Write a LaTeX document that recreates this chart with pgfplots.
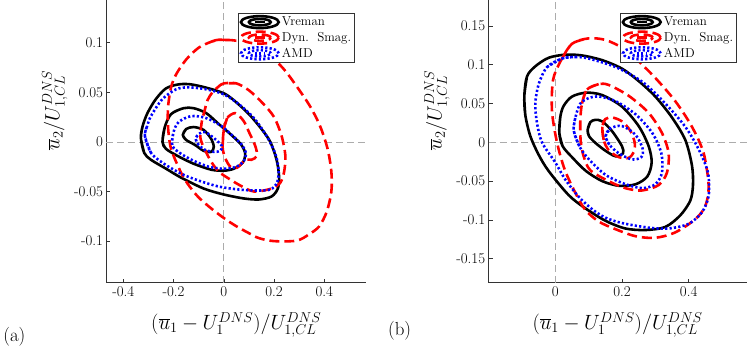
\documentclass[border=0pt]{standalone}
\usepackage{pgfplots}
\pgfplotsset{compat=1.18}

\newcommand{\lgf}{\fontsize{13}{15}\selectfont}
% contour-style legend icon: concentric ellipses
\pgfplotsset{
  legend image code/.code={
    \draw[#1] (19pt,0) ellipse [x radius=19pt, y radius=6pt];
    \draw[#1] (19pt,0) ellipse [x radius=11pt, y radius=3.2pt];
    \draw[#1] (14pt,0) -- (24pt,0);
  },
  pdfpanel/.style={
    scale only axis, height=284pt,
    axis x line*=bottom, axis y line*=left,
    axis line style={-, black!80, line width=0.6pt},
    tick align=inside, major tick length=4pt,
    tick style={black!80, line width=0.6pt},
    tick label style={font=\fontsize{15}{17}\selectfont},
    label style={font=\fontsize{20.74}{24}\selectfont},
    xlabel={$(\overline{u}_1-U^{DNS}_1)/U^{DNS}_{1,CL}$},
    xlabel style={yshift=-9pt},
    ylabel={$\overline{u}_2/U^{DNS}_{1,CL}$},
    ylabel style={at={(ticklabel cs:0.61)}},
    clip=false,
    legend cell align=left,
    legend style={draw=black!80, line width=0.6pt, font=\lgf,
      inner sep=1.5pt, row sep=1pt, anchor=north east},
  },
  vr/.style={black, line width=2.6pt, smooth},
  ds/.style={red, line width=2.6pt, dash pattern=on 10pt off 5pt, smooth},
  amd/.style={blue, line width=2.6pt, dash pattern=on 2.2pt off 2.2pt, smooth},
  zline/.style={gray!65, line width=0.7pt, dash pattern=on 7pt off 4pt, forget plot},
}

\begin{document}
\begin{tikzpicture}
% ---------------- panel (a)
\begin{axis}[pdfpanel, width=261pt,
  xmin=-0.467, xmax=0.566, ymin=-0.142, ymax=0.1427,
  xtick={-0.4,-0.2,0,0.2,0.4}, xticklabels={-0.4,-0.2,0,0.2,0.4},
  ytick={-0.1,-0.05,0,0.05,0.1}, yticklabels={-0.1,-0.05,0,0.05,0.1},
  legend style={at={(0.957,0.955)}},
]
\addplot[zline] coordinates {(0,-0.142) (0,0.1427)};
\addplot[zline] coordinates {(-0.467,0) (0.566,0)};
% Vreman
\addplot[vr] coordinates {(-0.317,-0.011) (-0.33,0.004) (-0.323,0.016) (-0.304,0.029) (-0.271,0.043) (-0.23,0.054) (-0.18,0.058) (-0.13,0.058) (-0.06,0.054) (0,0.049) (0.04,0.042) (0.10,0.028) (0.15,0.013) (0.185,0.0) (0.21,-0.018) (0.22,-0.035) (0.215,-0.047) (0.19,-0.055) (0.14,-0.058) (0.08,-0.057) (0.0,-0.053) (-0.08,-0.047) (-0.17,-0.036) (-0.23,-0.027) (-0.29,-0.018) (-0.317,-0.011) (-0.33,0.004) (-0.323,0.016)};
\addlegendentry{Vreman}
\addplot[vr, forget plot] coordinates {(-0.23,-0.007) (-0.244,0.0) (-0.235,0.015) (-0.21,0.028) (-0.16,0.034) (-0.12,0.034) (-0.07,0.029) (-0.02,0.018) (0.03,0.007) (0.07,-0.003) (0.085,-0.012) (0.075,-0.021) (0.04,-0.027) (0,-0.029) (-0.05,-0.028) (-0.12,-0.022) (-0.185,-0.014) (-0.23,-0.007) (-0.244,0.0) (-0.235,0.015)};
\addplot[vr, forget plot] coordinates {(-0.15,0.002) (-0.163,0.007) (-0.15,0.013) (-0.12,0.015) (-0.08,0.012) (-0.05,0.003) (-0.04,-0.005) (-0.05,-0.01) (-0.08,-0.009) (-0.115,-0.003) (-0.15,0.002) (-0.163,0.007) (-0.15,0.013)};
% Dyn. Smag.
\addplot[ds] coordinates {(-0.05,0.101) (-0.02,0.103) (0.05,0.102) (0.12,0.097) (0.18,0.088) (0.24,0.073) (0.29,0.056) (0.343,0.036) (0.383,0.016) (0.413,-0.007) (0.428,-0.03) (0.428,-0.05) (0.41,-0.07) (0.38,-0.085) (0.34,-0.093) (0.29,-0.0995) (0.2,-0.1) (0.14,-0.097) (0.1,-0.092) (0.05,-0.085) (0.013,-0.079) (-0.02,-0.073) (-0.06,-0.065) (-0.1,-0.056) (-0.13,-0.047) (-0.16,-0.036) (-0.19,-0.02) (-0.212,-0.005) (-0.222,0.015) (-0.222,0.035) (-0.21,0.055) (-0.19,0.068) (-0.15,0.083) (-0.1,0.095) (-0.05,0.101) (-0.02,0.103) (0.05,0.102)};
\addlegendentry{Dyn.~~Smag.}
\addplot[ds, forget plot] coordinates {(-0.02,0.056) (0.0,0.059) (0.05,0.059) (0.1,0.052) (0.155,0.039) (0.2,0.025) (0.23,0.006) (0.245,-0.014) (0.24,-0.03) (0.225,-0.041) (0.19,-0.047) (0.12,-0.05) (0.066,-0.044) (0.02,-0.037) (-0.02,-0.03) (-0.05,-0.02) (-0.075,-0.008) (-0.093,0.004) (-0.088,0.02) (-0.078,0.03) (-0.065,0.042) (-0.045,0.05) (-0.02,0.056) (0.0,0.059) (0.05,0.059)};
\addplot[ds, forget plot] coordinates {(-0.005,-0.005) (0,0.012) (0.013,0.024) (0.046,0.029) (0.079,0.021) (0.1,0.01) (0.125,-0.004) (0.132,-0.014) (0.11,-0.018) (0.086,-0.018) (0.053,-0.026) (0.026,-0.025) (0.005,-0.016) (-0.005,-0.005) (0,0.012) (0.013,0.024)};
% AMD
\addplot[amd] coordinates {(-0.29,-0.011) (-0.314,0.006) (-0.305,0.016) (-0.29,0.026) (-0.245,0.043) (-0.19,0.053) (-0.14,0.055) (-0.07,0.053) (0.0,0.048) (0.06,0.038) (0.12,0.024) (0.17,0.006) (0.205,-0.012) (0.218,-0.028) (0.212,-0.041) (0.185,-0.048) (0.13,-0.049) (0.06,-0.048) (-0.02,-0.045) (-0.10,-0.039) (-0.17,-0.032) (-0.244,-0.021) (-0.29,-0.011) (-0.314,0.006) (-0.305,0.016)};
\addlegendentry{AMD}
\addplot[amd, forget plot] coordinates {(-0.17,-0.012) (-0.205,-0.004) (-0.2,0.01) (-0.18,0.02) (-0.13,0.026) (-0.07,0.024) (-0.01,0.016) (0.04,0.005) (0.075,-0.004) (0.088,-0.012) (0.08,-0.019) (0.05,-0.025) (0.0,-0.027) (-0.06,-0.025) (-0.12,-0.019) (-0.17,-0.012) (-0.205,-0.004) (-0.2,0.01)};
\addplot[amd, forget plot] coordinates {(-0.1,-0.003) (-0.112,0.003) (-0.10,0.008) (-0.075,0.01) (-0.04,0.004) (-0.008,-0.004) (-0.015,-0.009) (-0.04,-0.01) (-0.075,-0.008) (-0.1,-0.003) (-0.112,0.003) (-0.10,0.008)};
\node[font=\fontsize{19}{22}\selectfont] at (rel axis cs:-0.355,-0.19) {(a)};
\end{axis}
% ---------------- panel (b)
\begin{axis}[pdfpanel, width=259.4pt, at={(384.3pt,0pt)},
  xmin=-0.2, xmax=0.574, ymin=-0.181, ymax=0.183,
  xtick={0,0.2,0.4}, xticklabels={0,0.2,0.4},
  ytick={-0.15,-0.1,-0.05,0,0.05,0.1,0.15}, yticklabels={-0.15,-0.1,-0.05,0,0.05,0.1,0.15},
  legend style={at={(0.962,0.955)}},
]
\addplot[zline] coordinates {(0,-0.181) (0,0.183)};
\addplot[zline] coordinates {(-0.2,0) (0.574,0)};
% Vreman
\addplot[vr] coordinates {(-0.09,0.035) (-0.093,0.06) (-0.085,0.085) (-0.06,0.098) (-0.02,0.109) (0.03,0.113) (0.08,0.112) (0.14,0.106) (0.2,0.095) (0.25,0.079) (0.3,0.059) (0.35,0.032) (0.39,0.003) (0.41,-0.03) (0.413,-0.055) (0.405,-0.075) (0.375,-0.094) (0.33,-0.109) (0.27,-0.113) (0.21,-0.111) (0.15,-0.101) (0.09,-0.085) (0.04,-0.068) (-0.02,-0.037) (-0.05,-0.016) (-0.075,0.008) (-0.09,0.035) (-0.093,0.06) (-0.085,0.085)};
\addlegendentry{Vreman}
\addplot[vr, forget plot] coordinates {(0.022,-0.005) (0.012,0.012) (0.015,0.033) (0.025,0.047) (0.05,0.059) (0.092,0.064) (0.14,0.061) (0.2,0.046) (0.25,0.021) (0.28,-0.005) (0.289,-0.026) (0.276,-0.044) (0.241,-0.054) (0.191,-0.056) (0.141,-0.05) (0.092,-0.037) (0.052,-0.02) (0.022,-0.005) (0.012,0.012) (0.015,0.033)};
\addplot[vr, forget plot] coordinates {(0.101,0.008) (0.097,0.016) (0.105,0.026) (0.12,0.029) (0.141,0.027) (0.171,0.014) (0.2,-0.005) (0.203,-0.014) (0.181,-0.018) (0.151,-0.011) (0.121,-0.001) (0.101,0.008) (0.097,0.016) (0.105,0.026)};
% Dyn. Smag.
\addplot[ds] coordinates {(0.015,0.104) (0.05,0.127) (0.1,0.134) (0.15,0.132) (0.2,0.122) (0.241,0.108) (0.3,0.083) (0.36,0.053) (0.41,0.02) (0.445,-0.014) (0.46,-0.056) (0.45,-0.082) (0.42,-0.099) (0.36,-0.116) (0.3,-0.123) (0.241,-0.121) (0.181,-0.112) (0.13,-0.102) (0.09,-0.087) (0.06,-0.065) (0.028,-0.035) (0.005,0.0) (-0.01,0.04) (-0.007,0.08) (0.015,0.104) (0.05,0.127) (0.1,0.134)};
\addlegendentry{Dyn.~~Smag.}
\addplot[ds, forget plot] coordinates {(0.08,0.05) (0.095,0.068) (0.13,0.075) (0.16,0.074) (0.22,0.06) (0.28,0.038) (0.32,0.012) (0.34,-0.014) (0.335,-0.039) (0.31,-0.055) (0.26,-0.062) (0.21,-0.059) (0.16,-0.05) (0.105,-0.036) (0.085,-0.018) (0.076,0.002) (0.075,0.029) (0.08,0.05) (0.095,0.068) (0.13,0.075)};
\addplot[ds, forget plot] coordinates {(0.145,0.003) (0.141,0.02) (0.15,0.03) (0.171,0.032) (0.2,0.027) (0.225,0.015) (0.238,0.0) (0.236,-0.012) (0.22,-0.02) (0.19,-0.019) (0.16,-0.01) (0.145,0.003) (0.141,0.02) (0.15,0.03)};
% AMD
\addplot[amd] coordinates {(-0.025,0.097) (0.02,0.108) (0.06,0.11) (0.1,0.108) (0.181,0.097) (0.261,0.078) (0.33,0.05) (0.39,0.02) (0.43,-0.009) (0.458,-0.039) (0.46,-0.069) (0.44,-0.09) (0.4,-0.105) (0.34,-0.111) (0.281,-0.11) (0.2,-0.104) (0.15,-0.097) (0.11,-0.086) (0.07,-0.07) (0.03,-0.048) (0.0,-0.026) (-0.04,0.0) (-0.055,0.025) (-0.06,0.05) (-0.05,0.075) (-0.025,0.097) (0.02,0.108) (0.06,0.11)};
\addlegendentry{AMD}
\addplot[amd, forget plot] coordinates {(0.072,-0.005) (0.055,0.016) (0.062,0.035) (0.075,0.05) (0.1,0.057) (0.131,0.059) (0.181,0.053) (0.241,0.036) (0.291,0.012) (0.318,-0.014) (0.32,-0.039) (0.3,-0.054) (0.261,-0.059) (0.211,-0.054) (0.151,-0.042) (0.101,-0.022) (0.072,-0.005) (0.055,0.016) (0.062,0.035)};
\addplot[amd, forget plot] coordinates {(0.162,-0.003) (0.151,0.008) (0.165,0.018) (0.2,0.021) (0.24,0.01) (0.262,-0.008) (0.258,-0.019) (0.23,-0.022) (0.19,-0.014) (0.162,-0.003) (0.151,0.008) (0.165,0.018)};
\node[font=\fontsize{19}{22}\selectfont] at (rel axis cs:-0.345,-0.17) {(b)};
\end{axis}
\end{tikzpicture}
\end{document}
